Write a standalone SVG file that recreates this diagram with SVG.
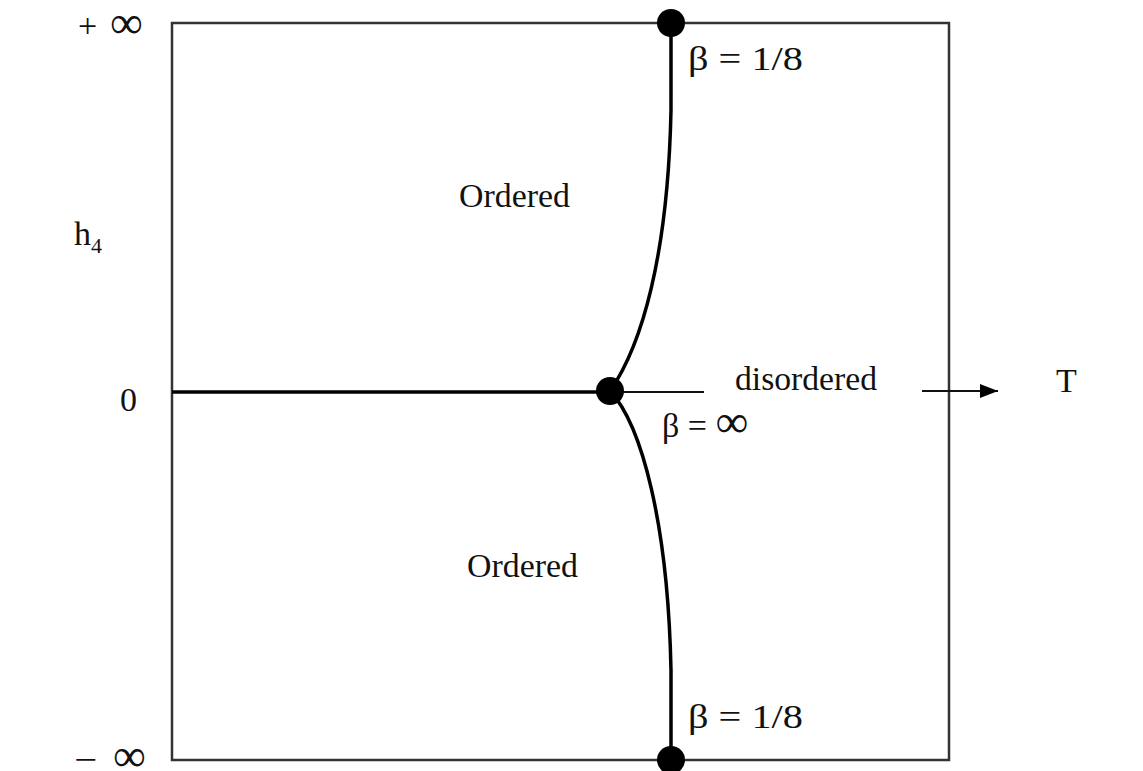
<svg xmlns="http://www.w3.org/2000/svg" width="1143" height="771" viewBox="0 0 1143 771">
<style>
.t{font-family:"Liberation Serif","Times New Roman",serif;font-size:34px;fill:#111}
.inf{font-size:46px}
.frame{fill:none;stroke:#333;stroke-width:2.5}
.thick{fill:none;stroke:#000;stroke-width:3.5}
.thin{fill:none;stroke:#111;stroke-width:2}
.dot{fill:#000}
</style>
<defs>
<marker id="ah" markerWidth="20" markerHeight="14" refX="18" refY="7" orient="auto" markerUnits="userSpaceOnUse">
<path d="M0,0 L18,7 L0,14 Z" fill="#000"/>
</marker>
</defs>
<rect width="1143" height="771" fill="#fff"/>
<g id="frame">
<rect class="frame" x="172" y="23" width="777" height="737"/>
</g>
<g id="connectors">
<line class="thick" x1="172" y1="392" x2="610" y2="392"/>
<line class="thin" x1="610" y1="392" x2="704" y2="392"/>
<path class="thick" d="M610,391 C642,345 668,255 671,110 L671,23"/>
<path class="thick" d="M610,391 C642,425 668,525 671,670 L671,760"/>
<line class="thin" x1="922" y1="391" x2="998" y2="391" marker-end="url(#ah)"/>
</g>
<g id="node-top"><circle class="dot" cx="671" cy="23" r="14"/></g>
<g id="node-center"><circle class="dot" cx="610" cy="391" r="14"/></g>
<g id="node-bottom"><circle class="dot" cx="671" cy="760" r="14"/></g>
<g id="labels">
<text class="t" x="78" y="37" font-size="40">+</text>
<text class="t inf" x="110" y="38">∞</text>
<text class="t" x="74" y="245">h<tspan font-size="22" dy="8">4</tspan></text>
<text class="t" x="120" y="411">0</text>
<text class="t" x="74" y="771" textLength="23" lengthAdjust="spacingAndGlyphs">−</text>
<text class="t inf" x="113" y="771">∞</text>
<text class="t" x="688" y="70" textLength="115" lengthAdjust="spacingAndGlyphs">β = 1/8</text>
<text class="t" x="459" y="207" textLength="111" lengthAdjust="spacingAndGlyphs">Ordered</text>
<text class="t" x="735" y="390" textLength="142" lengthAdjust="spacingAndGlyphs">disordered</text>
<text class="t" x="662" y="437">β = <tspan class="inf">∞</tspan></text>
<text class="t" x="1056" y="392">T</text>
<text class="t" x="467" y="577" textLength="111" lengthAdjust="spacingAndGlyphs">Ordered</text>
<text class="t" x="688" y="728" textLength="115" lengthAdjust="spacingAndGlyphs">β = 1/8</text>
</g>
</svg>
